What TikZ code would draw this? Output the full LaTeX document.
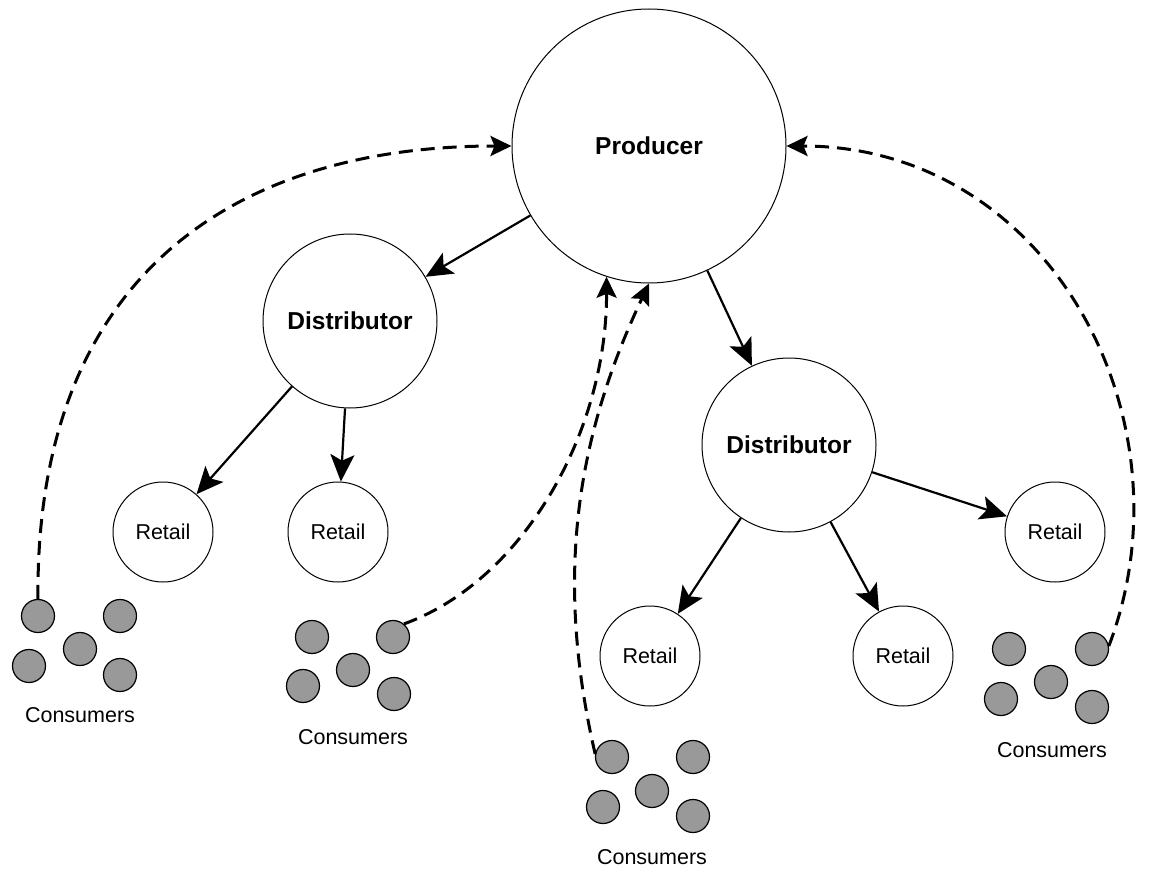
\documentclass[tikz,border=0pt]{standalone}
\usepackage{fontspec}
\setmainfont{Liberation Sans}
\usepackage{tikz}
\usetikzlibrary{arrows.meta}

\definecolor{buyergray}{RGB}{153,153,153}

\tikzset{
    producer/.style={circle, draw, line width=1pt, minimum size=274pt, inner sep=0pt,
        font=\fontsize{24.5}{29}\selectfont\bfseries},
    distributor/.style={circle, draw, line width=1pt, minimum size=174pt, inner sep=0pt,
        font=\fontsize{24.5}{29}\selectfont\bfseries},
    retail/.style={circle, draw, line width=1pt, minimum size=100pt, inner sep=0pt,
        font=\fontsize{21.5}{26}\selectfont},
    buyer/.style={circle, draw, line width=1.2pt, fill=buyergray, minimum size=33pt, inner sep=0pt},
    constext/.style={font=\fontsize{21.5}{26}\selectfont, inner sep=0pt},
    flow/.style={line width=2.2pt, -{Stealth[length=27pt,width=24pt,inset=6pt]}},
    feedback/.style={line width=3pt, dash pattern=on 14pt off 8pt,
        -{Stealth[length=21pt,width=20pt,inset=4pt]}}
}

\begin{document}
\begin{tikzpicture}[x=1pt,y=-1pt]
            \useasboundingbox (0,0) rectangle (1152,869);

            \node[producer] (prod) at (649,146) {Producer};
            \node[distributor] (distL) at (350,321) {Distributor};
            \node[distributor] (distR) at (789,445) {Distributor};

            \node[retail] (retA) at (163,532) {Retail};
            \node[retail] (retB) at (338,532) {Retail};
            \node[retail] (retC) at (650,656) {Retail};
            \node[retail] (retD) at (903,656) {Retail};
            \node[retail] (retE) at (1055,532) {Retail};

            \draw[flow] (prod) -- (distL);
            \draw[flow] (prod) -- (distR);
            \draw[flow] (distL) -- (retA);
            \draw[flow] (distL) -- (retB);
            \draw[flow] (distR) -- (retC);
            \draw[flow] (distR) -- (retD);
            \draw[flow] (distR) -- (retE);

            % consumers, left
            \node[constext] (cons1) at (80,715) {Consumers};
            \node[buyer] (c1a) at (38,616) {};
            \node[buyer] (c1b) at (120,616) {};
            \node[buyer] (c1c) at (80,649) {};
            \node[buyer] (c1d) at (29,666) {};
            \node[buyer] (c1e) at (120,675) {};

            % consumers, second
            \node[constext] (cons2) at (353,737) {Consumers};
            \node[buyer] (c2a) at (312,637) {};
            \node[buyer] (c2b) at (393,637) {};
            \node[buyer] (c2c) at (353,670) {};
            \node[buyer] (c2d) at (303,686) {};
            \node[buyer] (c2e) at (394,694) {};

            % consumers, bottom
            \node[constext] (cons3) at (652,857) {Consumers};
            \node[buyer] (c3a) at (612,757) {};
            \node[buyer] (c3b) at (693,757) {};
            \node[buyer] (c3c) at (652,791) {};
            \node[buyer] (c3d) at (603,807) {};
            \node[buyer] (c3e) at (693,816) {};

            % consumers, right
            \node[constext] (cons4) at (1052,750) {Consumers};
            \node[buyer] (c4a) at (1009,649) {};
            \node[buyer] (c4b) at (1092,649) {};
            \node[buyer] (c4c) at (1051,682) {};
            \node[buyer] (c4d) at (1001,699) {};
            \node[buyer] (c4e) at (1092,707) {};

            \draw[feedback] (c1a.north) .. controls (35,280) and (230,146) .. (prod.west);
            \draw[feedback] (c2b.50) .. controls (525,580) and (607,430) .. (prod.252);
            \draw[feedback] (c3a.170) .. controls (555,580) and (575,440) .. (prod.270);
            \draw[feedback] (c4b.10) .. controls (1195,420) and (1050,146) .. (prod.east);

        \end{tikzpicture}
\end{document}
